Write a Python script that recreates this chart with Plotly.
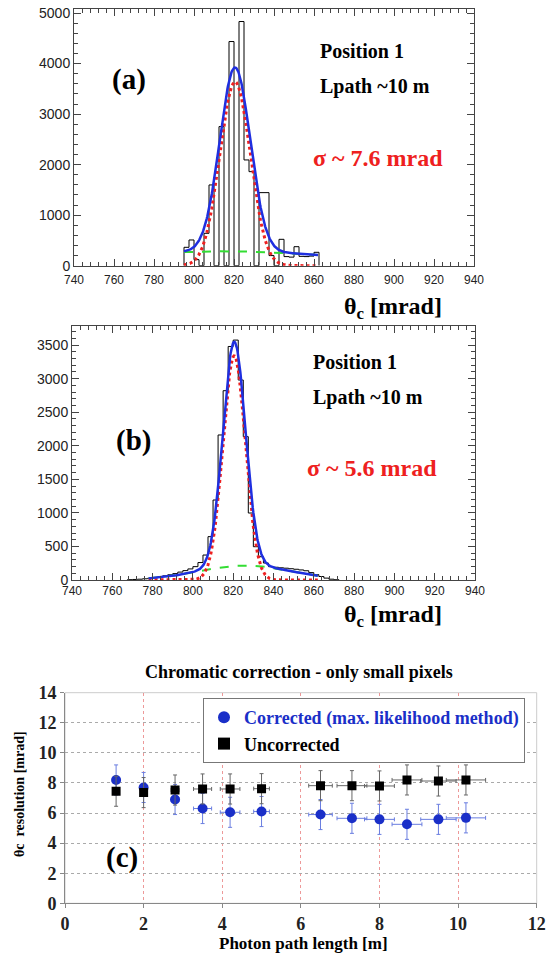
import numpy as np
import plotly.graph_objects as go

W, H = 547, 958

# ---------------- Data ----------------
# Panel (a): histogram, 2.5 mrad bins starting at 795 mrad
a_bin_start = 795.0
a_bin_width = 2.5
a_counts = [364, 509, 120, 0, 641, 1598, 0, 2753, 0, 4436, 0, 4832, 2093, 1861,
            0, 1446, 1446, 200, 0, 522, 180, 170, 376, 185, 180, 190, 265]
# fit parameters (a): signal gaussian + broad background
a_sig = dict(amp=3640, mean=820.5, sigma=7.6)
a_bkg = dict(amp=285, mean=815.0, sigma=60.0)
a_fit_range = [795, 862]

# Panel (b): histogram, 2.5 mrad bins starting at 767.5 mrad
b_bin_start = 767.5
b_bin_width = 2.5
b_counts = [5, 8, 12, 18, 25, 35, 48, 62, 78, 95, 118, 140, 165, 199, 260, 372,
            646, 1192, 2161, 2821, 3480, 3575, 2980, 2136, 998, 496, 347, 253,
            199, 190, 182, 176, 168, 160, 150, 138, 110, 80, 52, 28, 12, 4]
b_sig = dict(amp=3340, mean=820.5, sigma=5.6)
b_bkg = dict(amp=215, mean=826.0, sigma=23.0)
b_fit_range = [778, 862]

# Panel (c): resolution vs photon path length
path_len = [1.3, 2.0, 2.8, 3.5, 4.2, 5.0, 6.5, 7.3, 8.0, 8.7, 9.5, 10.2]
path_err = [0.05, 0.08, 0.1, 0.23, 0.25, 0.2, 0.3, 0.38, 0.38, 0.38, 0.45, 0.5]
res_corrected = [8.2, 7.7, 6.9, 6.3, 6.05, 6.1, 5.9, 5.65, 5.58, 5.25, 5.58, 5.68]
res_uncorrected = [7.45, 7.36, 7.53, 7.6, 7.6, 7.62, 7.82, 7.82, 7.8, 8.2, 8.13, 8.2]
res_err = [1.0] * 12
c_x_ticks = [0, 2, 4, 6, 8, 10, 12]
c_y_ticks = [0, 2, 4, 6, 8, 10, 12, 14]

# ---------------- helpers ----------------
def gauss(x, p):
    return p["amp"] * np.exp(-0.5 * ((x - p["mean"]) / p["sigma"]) ** 2)

def step_xy(start, width, counts):
    n = len(counts)
    edges = [start + i * width for i in range(n + 1)]
    xs = [edges[0]] + edges[:n] + [edges[n]]
    ys = [0] + list(counts) + [0]
    return xs, ys

def px(x):
    return x / W

def py(y):
    return 1 - y / H

SERIF = "Liberation Serif"
SANS = "Liberation Sans"
BLUE = "#1f2fe0"
RED = "#ee2020"
GREEN = "#33dd33"

fig = go.Figure()

# ---------------- Panel (a) ----------------
xs, ys = step_xy(a_bin_start, a_bin_width, a_counts)
fig.add_trace(go.Scatter(x=xs, y=ys, mode="lines", line=dict(color="black", width=1, shape="hv"),
                         xaxis="x", yaxis="y", showlegend=False, hoverinfo="skip"))
xa = np.linspace(a_fit_range[0], a_fit_range[1], 300)
fig.add_trace(go.Scatter(x=xa, y=gauss(xa, a_bkg), mode="lines",
                         line=dict(color=GREEN, width=2, dash="dash"),
                         xaxis="x", yaxis="y", showlegend=False))
fig.add_trace(go.Scatter(x=xa, y=gauss(xa, a_sig), mode="lines",
                         line=dict(color=RED, width=3, dash="dot"),
                         xaxis="x", yaxis="y", showlegend=False))
fig.add_trace(go.Scatter(x=xa, y=gauss(xa, a_sig) + gauss(xa, a_bkg), mode="lines",
                         line=dict(color=BLUE, width=2.5),
                         xaxis="x", yaxis="y", showlegend=False))

# ---------------- Panel (b) ----------------
xs, ys = step_xy(b_bin_start, b_bin_width, b_counts)
fig.add_trace(go.Scatter(x=xs, y=ys, mode="lines", line=dict(color="black", width=1, shape="hv"),
                         xaxis="x2", yaxis="y2", showlegend=False, hoverinfo="skip"))
xb = np.linspace(b_fit_range[0], b_fit_range[1], 300)
fig.add_trace(go.Scatter(x=xb, y=gauss(xb, b_bkg), mode="lines",
                         line=dict(color=GREEN, width=2, dash="dash"),
                         xaxis="x2", yaxis="y2", showlegend=False))
fig.add_trace(go.Scatter(x=xb, y=gauss(xb, b_sig), mode="lines",
                         line=dict(color=RED, width=3, dash="dot"),
                         xaxis="x2", yaxis="y2", showlegend=False))
fig.add_trace(go.Scatter(x=xb, y=gauss(xb, b_sig) + gauss(xb, b_bkg), mode="lines",
                         line=dict(color=BLUE, width=2.5),
                         xaxis="x2", yaxis="y2", showlegend=False))

# ---------------- Panel (c) ----------------
fig.add_trace(go.Scatter(
    x=path_len, y=res_corrected, mode="markers",
    name="<span style='color:#1a2fc8'>Corrected (max. likelihood method)</span>",
    marker=dict(symbol="circle", size=10, color="#1a2fc8"),
    error_y=dict(type="data", array=res_err, color="#6a7ee0", thickness=1, width=2),
    error_x=dict(type="data", array=path_err, color="#6a7ee0", thickness=1, width=2),
    xaxis="x3", yaxis="y3"))
fig.add_trace(go.Scatter(
    x=path_len, y=res_uncorrected, mode="markers",
    name="Uncorrected",
    marker=dict(symbol="square", size=9, color="black"),
    error_y=dict(type="data", array=res_err, color="#666", thickness=1, width=2),
    error_x=dict(type="data", array=path_err, color="#666", thickness=1, width=2),
    xaxis="x3", yaxis="y3"))

# ---------------- Axes ----------------
hist_x = dict(showgrid=False, zeroline=False, showline=True, linecolor="#444", linewidth=1,
              mirror="allticks", ticks="inside", ticklen=7, tickcolor="#444",
              dtick=20, tick0=740, range=[740, 940], automargin=False,
              minor=dict(ticks="inside", ticklen=4, dtick=4, tickcolor="#444", showgrid=False),
              tickfont=dict(family=SANS, size=12, color="#222"))
hist_y = dict(showgrid=False, zeroline=False, showline=True, linecolor="#444", linewidth=1,
              mirror="allticks", ticks="inside", ticklen=7, tickcolor="#444", automargin=False,
              tickfont=dict(family=SANS, size=14, color="#222"))

NB = "\u00a0"
fig.update_layout(
    xaxis=dict(hist_x, domain=[px(74), px(474)], anchor="y", ticklabelstandoff=3),
    yaxis=dict(hist_y, domain=[py(265.7), py(9)], anchor="x", range=[0, 5080],
               dtick=1000, minor=dict(ticks="inside", ticklen=4, dtick=200, tickcolor="#444")),
    xaxis2=dict(hist_x, domain=[px(72), px(475)], anchor="y2"),
    yaxis2=dict(hist_y, domain=[py(580), py(326)], anchor="x2", range=[0, 3785],
                dtick=500, minor=dict(ticks="inside", ticklen=4, dtick=100, tickcolor="#444")),
    xaxis3=dict(domain=[px(65), px(536.7)], anchor="y3", range=[0, 12], automargin=False,
                tickvals=c_x_ticks, showgrid=True, gridcolor="rgba(230,110,110,0.7)",
                griddash="dot", gridwidth=1, zeroline=False, showline=True,
                linecolor="#888", ticks="outside", ticklen=4, tickcolor="#888",
                tickfont=dict(family=SERIF, size=18, color="#222", weight="bold")),
    yaxis3=dict(domain=[py(903.3), py(692.7)], anchor="x3", range=[0, 14], automargin=False,
                tickvals=c_y_ticks, showgrid=True, gridcolor="#aaa",
                griddash="dot", gridwidth=1, zeroline=False, showline=True,
                linecolor="#888", ticks="outside", ticklen=4, tickcolor="#888",
                ticksuffix=NB * 2,
                tickfont=dict(family=SERIF, size=18, color="#222", weight="bold")),
    width=W, height=H, autosize=False,
    margin=dict(l=0, r=0, t=0, b=0, pad=0, autoexpand=False),
    paper_bgcolor="white", plot_bgcolor="white",
    showlegend=True,
    legend=dict(x=px(203), y=py(698), xanchor="left", yanchor="top",
                bgcolor="white", bordercolor="#777", borderwidth=1,
                font=dict(family=SERIF, size=18, color="black", weight="bold"),
                itemsizing="constant", tracegroupgap=0),
)

# frame for panel (c) (light grey top/right)
fig.add_shape(type="rect", xref="paper", yref="paper",
              x0=px(65), x1=px(536.7), y0=py(903.3), y1=py(692.7),
              line=dict(color="#ccc", width=1), layer="below")

# ---------------- Annotations ----------------
def ann(text, x, y, size, color="black", xanchor="center", textangle=0, family=SERIF):
    fig.add_annotation(text=text, x=px(x), y=py(y), xref="paper", yref="paper",
                       showarrow=False, xanchor=xanchor, yanchor="middle",
                       textangle=textangle,
                       font=dict(family=family, size=size, color=color))

ann("<b>(a)</b>", 129, 79, 29)
ann("<b>Position 1</b>", 318, 51, 20, xanchor="left")
ann("<b>Lpath ~10 m</b>", 318, 87, 20, xanchor="left")
ann("<b>σ ~ 7.6 mrad</b>", 311, 158, 24, color=RED, xanchor="left")
ann("<b>θ<sub>c</sub> [mrad]</b>", 393, 308, 24)

ann("<b>(b)</b>", 133, 440, 29)
ann("<b>Position 1</b>", 311, 362, 20, xanchor="left")
ann("<b>Lpath ~10 m</b>", 311, 397, 20, xanchor="left")
ann("<b>σ ~ 5.6 mrad</b>", 305, 468, 24, color=RED, xanchor="left")
ann("<b>θ<sub>c</sub> [mrad]</b>", 393, 616, 24)

ann("<b>Chromatic correction - only small pixels</b>", 299, 672, 18)
ann("<b>(c)</b>", 122, 857, 29)
ann("<b>θc  resolution [mrad]</b>", 19, 794, 14, textangle=-90)
ann("<b>Photon path length [m]</b>", 303, 943, 17)

fig.write_html("out.html", config={"displayModeBar": False},
               post_script="document.body.style.margin='0';document.body.style.padding='0';")
